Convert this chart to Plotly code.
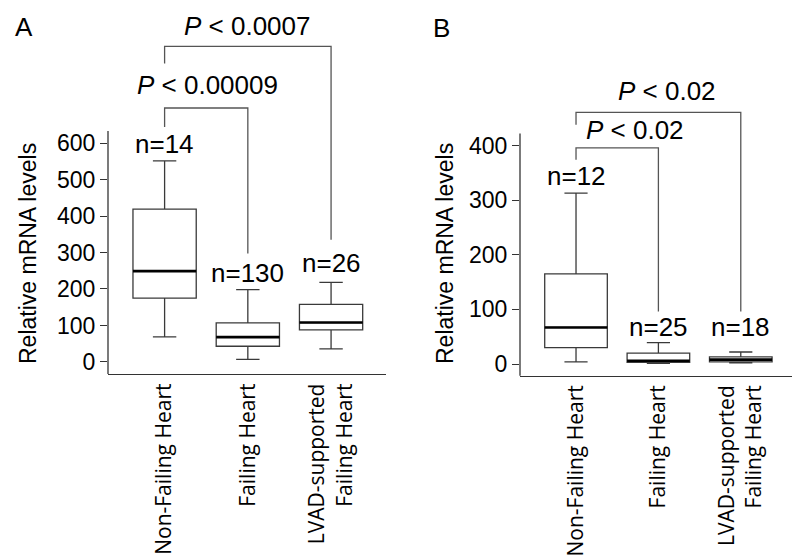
import plotly.graph_objects as go

categories = ["Non-Failing Heart", "Failing Heart", "LVAD-supported<br>Failing Heart"]

# Panel A stats
a_low = [69, 7, 36]
a_q1 = [175, 43, 88]
a_med = [249, 68, 108]
a_q3 = [419, 107, 158]
a_high = [551, 198, 218]
a_n = ["n=14", "n=130", "n=26"]
a_n_y = [597, 244, 271]
a_ticks = [0, 100, 200, 300, 400, 500, 600]

# Panel B stats
b_low = [4, 1, 2]
b_q1 = [30, 3, 4]
b_med = [67, 6, 8]
b_q3 = [165, 20, 13]
b_high = [313, 39, 22]
b_n = ["n=12", "n=25", "n=18"]
b_n_y = [344, 67, 67]
b_ticks = [0, 100, 200, 300, 400]

# significance brackets: (left idx, right idx, top, left bottom, right bottom, label, label x, label y)
a_brackets = [
    (0, 1, 696, 644, 297, "<i>P</i> < 0.00009", 0.52, 759),
    (0, 2, 865, 818, 335, "<i>P</i> < 0.0007", 1.0, 920),
]
b_brackets = [
    (0, 1, 396, 374, 96, "<i>P</i> < 0.02", 0.72, 429),
    (0, 2, 461, 438, 96, "<i>P</i> < 0.02", 1.1, 500),
]

xs = [0, 1, 2]
BOXW = 0.76
ARIAL = "Liberation Sans, Arial, sans-serif"

fig = go.Figure()

def add_panel(xa, ya, low, q1, med, q3, high):
    fig.add_trace(go.Box(
        x=xs, q1=q1, median=med, q3=q3, lowerfence=low, upperfence=high,
        width=BOXW, whiskerwidth=0.37, fillcolor="white",
        line=dict(color="#3a3a3a", width=1.3), boxpoints=False,
        xaxis=xa, yaxis=ya, showlegend=False, hoverinfo="skip",
    ))
    mx, my = [], []
    for i, m in zip(xs, med):
        mx += [i - BOXW / 2, i + BOXW / 2, None]
        my += [m, m, None]
    fig.add_trace(go.Scatter(x=mx, y=my, mode="lines", line=dict(color="black", width=2.6),
                             xaxis=xa, yaxis=ya, showlegend=False, hoverinfo="skip"))

add_panel("x", "y", a_low, a_q1, a_med, a_q3, a_high)
add_panel("x2", "y2", b_low, b_q1, b_med, b_q3, b_high)

xcommon = dict(
    tickmode="array", tickvals=xs, ticktext=categories, tickangle=-90,
    ticks="", showline=True, linecolor="#333", linewidth=1.3, showgrid=False, zeroline=False,
    tickfont=dict(family="Open Sans, sans-serif", size=21, color="black"), fixedrange=True,
)
ycommon = dict(
    ticks="outside", ticklen=7, tickcolor="#333", tickwidth=1.3, showline=False,
    showgrid=False, zeroline=False,
    tickfont=dict(family=ARIAL, size=23, color="black"), fixedrange=True,
)

fig.update_layout(
    width=800, height=557,
    margin=dict(l=0, r=0, t=0, b=0),
    paper_bgcolor="white", plot_bgcolor="white",
    xaxis=dict(domain=[0.125, 0.4725], range=[-0.68, 2.66], anchor="y", **xcommon),
    yaxis=dict(domain=[1 - 366 / 557, 1], range=[-33, 970], anchor="x",
               tickvals=a_ticks, **ycommon),
    xaxis2=dict(domain=[0.64, 0.986], range=[-0.68, 2.68], anchor="y2", **xcommon),
    yaxis2=dict(domain=[1 - 367.7 / 557, 1], range=[-21.4, 652], anchor="x2",
                tickvals=b_ticks, **ycommon),
)

shapes = []
annotations = []

def panel_decor(xr, yr, ytop, ns, ny, brackets):
    # y-axis line
    shapes.append(dict(type="line", xref=f"{xr} domain", yref=yr, x0=0, x1=0,
                       y0=-1000, y1=ytop, line=dict(color="#333", width=1.3)))
    for i, (t, yv) in enumerate(zip(ns, ny)):
        annotations.append(dict(x=xs[i], y=yv, xref=xr, yref=yr, text=t, showarrow=False,
                                xanchor="center", yanchor="middle",
                                font=dict(family=ARIAL, size=26, color="black")))
    for (l, r, top, lb, rb, lab, lx, ly) in brackets:
        shapes.append(dict(type="path", xref=xr, yref=yr,
                           path=f"M {l},{lb} L {l},{top} L {r},{top} L {r},{rb}",
                           line=dict(color="#555", width=1.3)))
        annotations.append(dict(x=lx, y=ly, xref=xr, yref=yr, text=lab, showarrow=False,
                                xanchor="center", yanchor="middle",
                                font=dict(family=ARIAL, size=26, color="black")))

panel_decor("x", "y", 633, a_n, a_n_y, a_brackets)
panel_decor("x2", "y2", 422, b_n, b_n_y, b_brackets)

def paper_text(px, py, text, size, angle=0):
    annotations.append(dict(x=px / 800, y=1 - py / 557, xref="paper", yref="paper", text=text,
                            textangle=angle, showarrow=False, xanchor="center", yanchor="middle",
                            font=dict(family=ARIAL, size=size, color="black")))

paper_text(16, 19, "A", 26)
paper_text(433, 20, "B", 26)
paper_text(20, 246, "Relative mRNA levels", 23, -90)
paper_text(437, 246, "Relative mRNA levels", 23, -90)

fig.update_layout(shapes=shapes, annotations=annotations)
fig.write_html("out.html")
